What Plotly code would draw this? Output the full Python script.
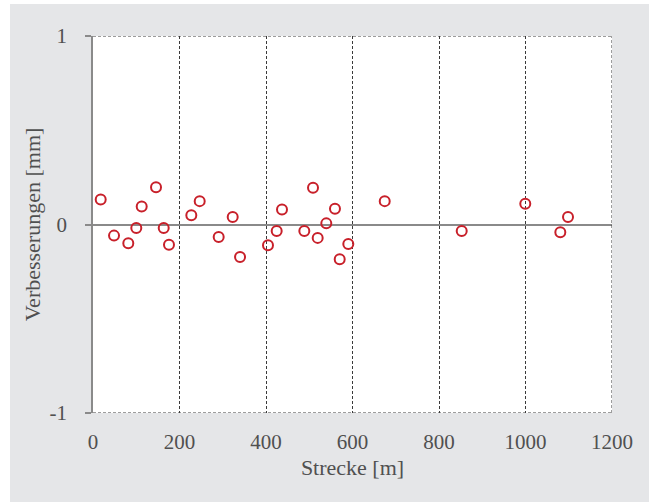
import plotly.graph_objects as go

strecke = [17.8, 48.6, 81.6, 100.1, 112.6, 145.7, 163.5, 175.7, 227.3, 246.7,
           290.6, 323.0, 340.0, 404.6, 424.7, 437.0, 488.6, 508.7, 519.5, 539.4,
           559.5, 570.4, 590.3, 674.5, 852.5, 999.5, 1080.5, 1098.3]
verbesserungen = [0.133, -0.059, -0.099, -0.018, 0.096, 0.198, -0.018, -0.108, 0.049, 0.124,
                  -0.066, 0.040, -0.173, -0.110, -0.034, 0.080, -0.034, 0.195, -0.071, 0.006,
                  0.084, -0.184, -0.104, 0.124, -0.034, 0.110, -0.041, 0.040]

x_ticks = [0, 200, 400, 600, 800, 1000, 1200]
y_ticks = [-1, 0, 1]

BG = "#e5e6e8"
TICKFONT = dict(family="Liberation Serif", size=21, color="#505050")
TITLEFONT = dict(family="Liberation Serif", size=22, color="#505050")
GRID = "#3a3a3a"
DASH = "3px,2px"

fig = go.Figure()
fig.add_trace(go.Scatter(
    x=strecke, y=verbesserungen, mode="markers",
    marker=dict(symbol="circle-open", size=10, color="#c8202a",
                line=dict(width=2, color="#c8202a")),
    showlegend=False, hoverinfo="skip"))

W, H = 649, 502
ml, mr, mt, mb = 93, 37, 36, 89
pw, ph = W - ml - mr, H - mt - mb

shapes = [
    # white strips at left and top edge of the page
    dict(type="rect", xref="paper", yref="paper",
         x0=-ml / pw - 0.01, x1=(10 - ml) / pw, y0=-mb / ph - 0.01, y1=1 + mt / ph + 0.01,
         fillcolor="white", line=dict(width=0), layer="above"),
    dict(type="rect", xref="paper", yref="paper",
         x0=-ml / pw - 0.01, x1=1 + mr / pw + 0.01, y0=1 + (mt - 4) / ph, y1=1 + mt / ph + 0.01,
         fillcolor="white", line=dict(width=0), layer="above"),
]
# dashed frame lines at the ends of the ranges
for yv in (y_ticks[0], y_ticks[-1]):
    shapes.append(dict(type="line", xref="x", yref="y", x0=x_ticks[0], x1=x_ticks[-1],
                       y0=yv, y1=yv, line=dict(color=GRID, width=1, dash=DASH), layer="above"))
shapes.append(dict(type="line", xref="x", yref="y", x0=x_ticks[-1], x1=x_ticks[-1],
                   y0=y_ticks[0], y1=y_ticks[-1], line=dict(color=GRID, width=1, dash=DASH),
                   layer="above"))

fig.update_layout(
    width=W, height=H,
    margin=dict(l=ml, r=mr, t=mt, b=mb, pad=0),
    paper_bgcolor=BG, plot_bgcolor="white",
    font=TICKFONT,
    xaxis=dict(range=[0, 1200], tickvals=x_ticks, ticktext=[str(v) for v in x_ticks],
               showgrid=True, gridcolor=GRID, griddash=DASH, gridwidth=1,
               zeroline=False, showline=False, ticks="", ticklabelstandoff=14,
               tickfont=TICKFONT,
               title=dict(text="Strecke [m]", standoff=6, font=TITLEFONT)),
    yaxis=dict(range=[-1, 1], tickvals=y_ticks, ticktext=[str(v) for v in y_ticks],
               showgrid=True, gridcolor=GRID, griddash=DASH, gridwidth=1,
               zeroline=True, zerolinecolor="#8a8a8a", zerolinewidth=1.5,
               showline=True, linecolor="#8a8a8a", linewidth=1.5,
               ticks="outside", ticklen=6, tickcolor="#8a8a8a", tickwidth=1.5,
               ticklabelstandoff=14, tickfont=TICKFONT,
               title=dict(text="Verbesserungen [mm]", standoff=3, font=TITLEFONT)),
    shapes=shapes,
)

fig.write_html("out.html", config={"displayModeBar": False},
               post_script="document.body.style.margin='0';")
